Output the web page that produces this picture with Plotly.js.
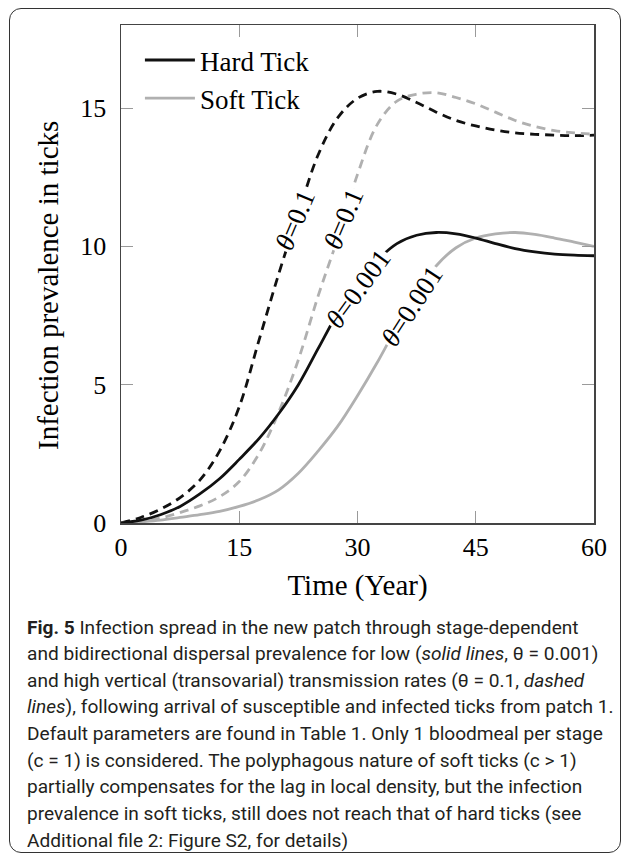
<!DOCTYPE html>
<html>
<head>
<meta charset="utf-8">
<script src="https://cdn.plot.ly/plotly-3.0.1.min.js"></script>
<style>
  html, body { margin: 0; padding: 0; background: #fff; }
  #wrap { position: relative; width: 627px; height: 858px; }
  #plot { position: absolute; left: 0; top: 0; width: 627px; height: 858px; }
  #box { position: absolute; left: 9px; top: 8px; width: 610px; height: 843px;
         border: 1.6px solid #333; border-radius: 12px; pointer-events: none; }
</style>
</head>
<body>
<div id="wrap">
  <div id="plot"></div>
  <div id="box"></div>
</div>
<script>
// ---- data ----
const years = [0, 2.5, 5, 7.5, 10, 12.5, 15, 17.5, 20, 22.5, 25, 27.5, 30,
               32.5, 35, 37.5, 40, 42.5, 45, 47.5, 50, 52.5, 55, 57.5, 60];
const hardLow  = [0, 0.1, 0.3, 0.6, 1.05, 1.6, 2.3, 3.05, 3.95, 5.0, 6.3, 7.6, 8.7,
                  9.5, 10.1, 10.4, 10.5, 10.45, 10.3, 10.1, 9.92, 9.8, 9.72, 9.68, 9.66];
const hardHigh = [0, 0.2, 0.5, 0.92, 1.55, 2.6, 4.2, 6.6, 9.0, 11.2, 13.3, 14.65, 15.35,
                  15.6, 15.5, 15.2, 14.85, 14.55, 14.35, 14.2, 14.1, 14.05, 14.02, 14.0, 14.02];
const softHigh = [0, 0.05, 0.18, 0.38, 0.62, 0.95, 1.5, 2.5, 4.0, 5.9, 8.2, 10.3, 12.6,
                  14.4, 15.25, 15.5, 15.55, 15.38, 15.15, 14.85, 14.55, 14.33, 14.18, 14.1, 14.05];
const softLow  = [0, 0.04, 0.1, 0.2, 0.3, 0.42, 0.6, 0.84, 1.2, 1.8, 2.6, 3.5, 4.6,
                  5.8, 7.1, 8.3, 9.3, 9.95, 10.3, 10.45, 10.5, 10.43, 10.3, 10.15, 10.0];

const xTicks = [0, 15, 30, 45, 60];
const yTicks = [0, 5, 10, 15];
const seriesNames = ["Hard Tick", "Soft Tick"];
const xTitle = "Time (Year)";
const yTitle = "Infection prevalence in ticks";

// curve labels: [text, x, y, angle]
const curveLabels = [
  ["<i>θ</i>=0.1",   22.1, 10.95, -67],
  ["<i>θ</i>=0.1",   28.2, 11.0, -67],
  ["<i>θ</i>=0.001", 30.1, 8.45, -54],
  ["<i>θ</i>=0.001", 36.9, 7.85, -57]
];

const captionLines = [
  "<b>Fig. 5</b> Infection spread in the new patch through stage-dependent",
  "and bidirectional dispersal prevalence for low (<i>solid lines</i>, θ = 0.001)",
  "and high vertical (transovarial) transmission rates (θ = 0.1, <i>dashed</i>",
  "<i>lines</i>), following arrival of susceptible and infected ticks from patch 1.",
  "Default parameters are found in Table 1. Only 1 bloodmeal per stage",
  "(c = 1) is considered. The polyphagous nature of soft ticks (c &gt; 1)",
  "partially compensates for the lag in local density, but the infection",
  "prevalence in soft ticks, still does not reach that of hard ticks (see",
  "Additional file 2: Figure S2, for details)"
];

// ---- styling ----
const BLACK = "#111111", GRAY = "#b0b0b0";
const SERIF = "Liberation Serif, DejaVu Serif, serif";
const CAPFONT = "Roboto, Noto Sans, sans-serif";
const LW = 2.8, DASH = "9px,6px";

const traces = [
  {x: years, y: hardHigh, mode: "lines", line: {color: BLACK, width: LW, dash: DASH, shape: "spline"},
   showlegend: false, legendgroup: "hard", hoverinfo: "skip"},
  {x: years, y: softHigh, mode: "lines", line: {color: GRAY, width: LW, dash: DASH, shape: "spline"},
   showlegend: false, legendgroup: "soft", hoverinfo: "skip"},
  {x: years, y: softLow, mode: "lines", name: seriesNames[1],
   line: {color: GRAY, width: LW, shape: "spline"}, legendgroup: "soft", hoverinfo: "skip"},
  {x: years, y: hardLow, mode: "lines", name: seriesNames[0],
   line: {color: BLACK, width: LW, shape: "spline"}, legendgroup: "hard", hoverinfo: "skip"}
];

const W = 627, H = 858, ML = 121, MR = 33, MT = 25, MB = 335;
const plotH = H - MT - MB, plotW = W - ML - MR;

const annotations = curveLabels.map(c => ({
  text: c[0], x: c[1], y: c[2], xref: "x", yref: "y", showarrow: false,
  textangle: c[3], font: {family: SERIF, size: 27, color: "#000"},
  bgcolor: "#ffffff", borderpad: 1, xanchor: "center", yanchor: "middle"
}));

// y axis title (placed as in the reference, slightly below plot centre)
annotations.push({
  text: yTitle, xref: "paper", yref: "paper",
  x: (48 - ML) / plotW, y: (H - MB - 286) / plotH,
  xanchor: "center", yanchor: "middle", textangle: -90, showarrow: false,
  font: {family: SERIF, size: 29, color: "#000"}
});

captionLines.forEach((t, i) => {
  const yc = 627 + i * 26.65;
  annotations.push({
    text: t, xref: "paper", yref: "paper",
    x: (25 - ML) / plotW, y: (H - MB - yc) / plotH,
    xanchor: "left", yanchor: "middle", showarrow: false, align: "left",
    font: {family: CAPFONT, size: 19.1, color: "#231f20"}
  });
});

const axisCommon = {
  showgrid: false, zeroline: false, showline: true, linecolor: "#444", linewidth: 1.5,
  mirror: "ticks", ticks: "inside", ticklen: 12, tickwidth: 1, tickcolor: "#9a9a9a",
  tickfont: {family: SERIF, size: 26, color: "#000"}
};

const layout = {
  width: W, height: H,
  margin: {l: ML, r: MR, t: MT, b: MB},
  paper_bgcolor: "#fff", plot_bgcolor: "#fff",
  xaxis: Object.assign({}, axisCommon, {
    range: [0, 60], tickvals: xTicks, ticktext: xTicks.map(String),
    title: {text: xTitle, font: {family: SERIF, size: 29, color: "#000"}, standoff: 14}
  }),
  yaxis: Object.assign({}, axisCommon, {
    range: [0, 18], tickvals: yTicks, ticktext: yTicks.map(String), ticklabelstandoff: 8
  }),
  showlegend: true,
  legend: {x: 0.040, y: 0.978, xanchor: "left", yanchor: "top", bgcolor: "rgba(0,0,0,0)",
           borderwidth: 0, traceorder: "reversed", itemwidth: 50,
           font: {family: SERIF, size: 27, color: "#000"}, tracegroupgap: 0},
  annotations: annotations
};

Plotly.newPlot("plot", traces, layout, {staticPlot: true, displayModeBar: false});
</script>
</body>
</html>
